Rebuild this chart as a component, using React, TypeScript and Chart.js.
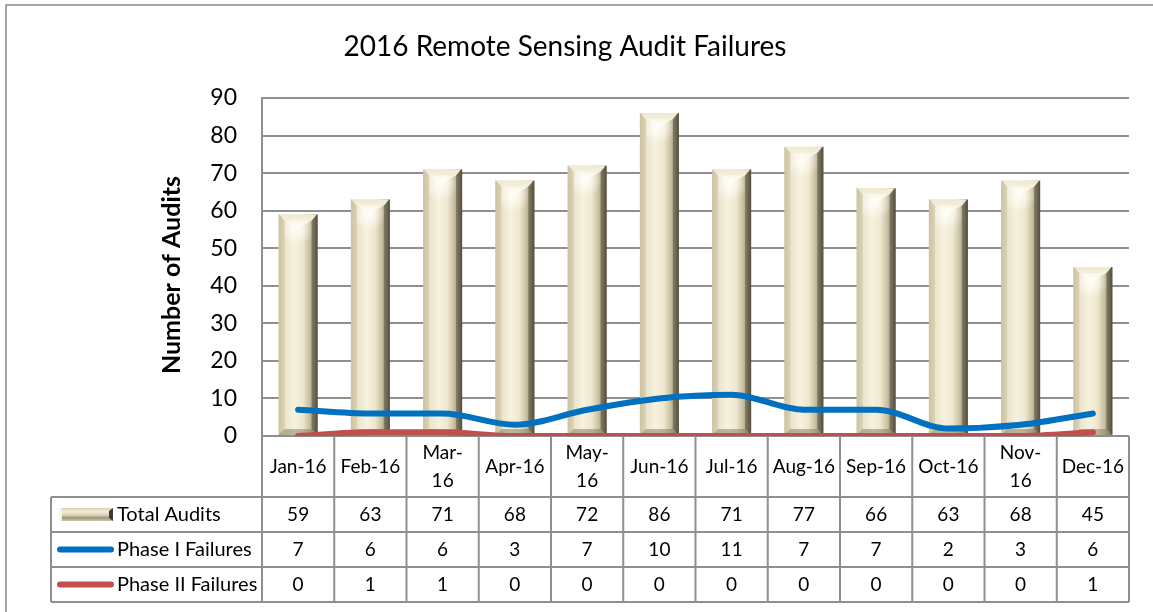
import React, { useEffect, useRef } from 'react';
import { Chart, registerables } from 'chart.js';

Chart.register(...registerables);

// ---- data ----
const months: (string | string[])[] = [
  'Jan-16', 'Feb-16', ['Mar-', '16'], 'Apr-16', ['May-', '16'], 'Jun-16',
  'Jul-16', 'Aug-16', 'Sep-16', 'Oct-16', ['Nov-', '16'], 'Dec-16',
];
const totalAudits = [59, 63, 71, 68, 72, 86, 71, 77, 66, 63, 68, 45];
const phase1Failures = [7, 6, 6, 3, 7, 10, 11, 7, 7, 2, 3, 6];
const phase2Failures = [0, 1, 1, 0, 0, 0, 0, 0, 0, 0, 0, 1];
const seriesNames = ['Total Audits', 'Phase I Failures', 'Phase II Failures'];
const yMin = 0;
const yMax = 90;
const yStep = 10;
const chartTitle = '2016 Remote Sensing Audit Failures';
const yAxisTitle = 'Number of Audits';

// ---- style ----
const FONT = 'Lato, "Open Sans", sans-serif';
const GRID = '#8f8f8f';
const BLUE = '#0070C0';
const RED = '#C0504D';

function drawBevelBar(ctx: CanvasRenderingContext2D, x0: number, x1: number, top: number, bottom: number) {
  const w = x1 - x0;
  const h = bottom - top;
  if (h <= 0) return;
  const d = Math.min(6, w / 4, h / 3);
  const xc = (x0 + x1) / 2;
  ctx.save();
  const g = ctx.createLinearGradient(x0, 0, x1, 0);
  g.addColorStop(0, '#cfc7a6');
  g.addColorStop(0.12, '#e8e1c6');
  g.addColorStop(0.4, '#f7f2df');
  g.addColorStop(0.62, '#eee7ce');
  g.addColorStop(0.8, '#c6be9f');
  g.addColorStop(0.92, '#8f886e');
  g.addColorStop(1, '#5d5746');
  ctx.fillStyle = g;
  ctx.fillRect(x0, top, w, h);
  // left bevel
  ctx.fillStyle = 'rgba(200,190,155,0.5)';
  ctx.beginPath();
  ctx.moveTo(x0, top); ctx.lineTo(x0 + d, top + d); ctx.lineTo(x0 + d, bottom - d); ctx.lineTo(x0, bottom);
  ctx.closePath(); ctx.fill();
  // right bevel
  ctx.fillStyle = 'rgba(70,65,50,0.45)';
  ctx.beginPath();
  ctx.moveTo(x1, top); ctx.lineTo(x1 - d, top + d); ctx.lineTo(x1 - d, bottom - d); ctx.lineTo(x1, bottom);
  ctx.closePath(); ctx.fill();
  // top face with V highlight
  const vh = Math.min(14, h / 2);
  const tg = ctx.createLinearGradient(0, top, 0, top + vh);
  tg.addColorStop(0, '#efe9d1');
  tg.addColorStop(1, '#fbf8ea');
  ctx.fillStyle = tg;
  ctx.beginPath();
  ctx.moveTo(x0 + 1, top); ctx.lineTo(x1 - 1, top); ctx.lineTo(x1 - d, top + d); ctx.lineTo(xc, top + vh); ctx.lineTo(x0 + d, top + d);
  ctx.closePath(); ctx.fill();
  const hg = ctx.createRadialGradient(xc - 2, top + vh, 0, xc - 2, top + vh, w * 0.45);
  hg.addColorStop(0, 'rgba(255,255,250,0.95)');
  hg.addColorStop(1, 'rgba(255,255,250,0)');
  ctx.fillStyle = hg;
  ctx.fillRect(x0 + d, top + d, w - 2 * d, Math.min(h - 2 * d, w));
  // bottom bevel
  ctx.fillStyle = 'rgba(140,130,100,0.55)';
  ctx.beginPath();
  ctx.moveTo(x0, bottom); ctx.lineTo(x0 + d, bottom - d); ctx.lineTo(x1 - d, bottom - d); ctx.lineTo(x1, bottom);
  ctx.closePath(); ctx.fill();
  ctx.restore();
}

function drawBarKey(ctx: CanvasRenderingContext2D, x0: number, y0: number, w: number, h: number) {
  ctx.save();
  const g = ctx.createLinearGradient(0, y0, 0, y0 + h);
  g.addColorStop(0, '#d8d0b2');
  g.addColorStop(0.3, '#f3eed9');
  g.addColorStop(0.55, '#d9d2b5');
  g.addColorStop(0.75, '#9d977c');
  g.addColorStop(1, '#cfc7a8');
  ctx.fillStyle = g;
  ctx.fillRect(x0, y0, w, h);
  ctx.fillStyle = '#f8f5e6';
  ctx.fillRect(x0, y0, 3, h);
  ctx.fillStyle = '#3e3b31';
  ctx.beginPath();
  ctx.moveTo(x0 + w, y0); ctx.lineTo(x0 + w - 4, y0 + 3); ctx.lineTo(x0 + w - 4, y0 + h - 3); ctx.lineTo(x0 + w, y0 + h);
  ctx.closePath(); ctx.fill();
  ctx.restore();
}

const decorPlugin = {
  id: 'decor',
  afterDatasetDraw(chart: any, args: any) {
    if (args.meta.type !== 'bar') return;
    const ctx = chart.ctx as CanvasRenderingContext2D;
    args.meta.data.forEach((el: any) => {
      const p = el.getProps(['x', 'y', 'base', 'width'], true);
      drawBevelBar(ctx, p.x - p.width / 2, p.x + p.width / 2, p.y, p.base);
    });
  },
  afterDraw(chart: any) {
    const ctx = chart.ctx as CanvasRenderingContext2D;
    const { left, right, top, bottom } = chart.chartArea;
    const xs = chart.scales.x;
    const n = months.length;
    const colW = (right - left) / n;
    const headerBottom = bottom + 61;
    const rowH = 35;
    const tableLeft = 51;
    const tableBottom = headerBottom + rowH * 3;

    ctx.save();
    // outer border
    ctx.strokeStyle = '#8a8a8a';
    ctx.lineWidth = 1.5;
    ctx.strokeRect(6, 5, chart.width + 20, chart.height + 20);

    // title
    ctx.fillStyle = '#000';
    ctx.textAlign = 'center';
    ctx.textBaseline = 'middle';
    ctx.font = `28px ${FONT}`;
    ctx.fillText(chartTitle, 565, 47);

    // y axis title
    ctx.save();
    ctx.translate(172, (top + bottom) / 2 + 8);
    ctx.rotate(-Math.PI / 2);
    ctx.font = `bold 25px ${FONT}`;
    ctx.fillText(yAxisTitle, 0, 0);
    ctx.restore();

    // table lines
    ctx.strokeStyle = GRID;
    ctx.lineWidth = 2;
    ctx.beginPath();
    for (let r = 0; r <= 3; r++) {
      const y = headerBottom + r * rowH;
      ctx.moveTo(tableLeft, y); ctx.lineTo(right, y);
    }
    ctx.moveTo(tableLeft, headerBottom); ctx.lineTo(tableLeft, tableBottom);
    for (let i = 0; i <= n; i++) {
      const x = left + i * colW;
      ctx.moveTo(x, bottom); ctx.lineTo(x, tableBottom);
    }
    ctx.stroke();

    // header labels
    ctx.fillStyle = '#000';
    ctx.font = `19px ${FONT}`;
    ctx.textAlign = 'center';
    const headerMid = (bottom + headerBottom) / 2;
    months.forEach((m, i) => {
      const x = xs.getPixelForValue(i);
      if (Array.isArray(m)) {
        ctx.fillText(m[0], x, headerMid - 14);
        ctx.fillText(m[1], x, headerMid + 14);
      } else {
        ctx.fillText(m, x, headerMid);
      }
    });

    // rows
    const rows = [totalAudits, phase1Failures, phase2Failures];
    rows.forEach((vals, r) => {
      const yc = headerBottom + r * rowH + rowH / 2;
      ctx.textAlign = 'center';
      ctx.font = `19px ${FONT}`;
      vals.forEach((v, i) => ctx.fillText(String(v), xs.getPixelForValue(i), yc));
      ctx.textAlign = 'left';
      ctx.font = `20px ${FONT}`;
      ctx.fillText(seriesNames[r], 117, yc);
      if (r === 0) {
        drawBarKey(ctx, 59, yc - 6.5, 54, 13);
      } else {
        ctx.strokeStyle = r === 1 ? BLUE : RED;
        ctx.lineWidth = 6;
        ctx.lineCap = 'round';
        ctx.beginPath();
        ctx.moveTo(60, yc); ctx.lineTo(111, yc);
        ctx.stroke();
      }
    });
    ctx.restore();
  },
};

export default function App() {
  const ref = useRef<HTMLCanvasElement>(null);
  useEffect(() => {
    if (!ref.current) return;
    const chart = new Chart(ref.current, {
      type: 'bar',
      data: {
        labels: months as any,
        datasets: [
          {
            type: 'bar',
            label: seriesNames[0],
            data: totalAudits,
            backgroundColor: 'rgba(0,0,0,0)',
            borderWidth: 0,
            barPercentage: 0.54,
            categoryPercentage: 1,
            order: 2,
          },
          {
            type: 'line',
            label: seriesNames[1],
            data: phase1Failures,
            borderColor: BLUE,
            borderWidth: 6,
            cubicInterpolationMode: 'monotone',
            pointRadius: 0,
            borderCapStyle: 'round',
            borderJoinStyle: 'round',
            order: 0,
          },
          {
            type: 'line',
            label: seriesNames[2],
            data: phase2Failures,
            borderColor: RED,
            borderWidth: 6,
            cubicInterpolationMode: 'monotone',
            pointRadius: 0,
            borderCapStyle: 'round',
            borderJoinStyle: 'round',
            order: 1,
          },
        ] as any,
      },
      options: {
        responsive: false,
        animation: false,
        devicePixelRatio: 1,
        layout: { padding: { left: 0, top: 98, right: 24, bottom: 176 } },
        plugins: {
          legend: { display: false },
          title: { display: false },
          tooltip: { enabled: false },
        },
        scales: {
          x: { display: false, offset: true },
          y: {
            min: yMin,
            max: yMax,
            ticks: {
              stepSize: yStep,
              padding: 25,
              color: '#000',
              font: { family: FONT, size: 23 },
            },
            grid: { color: GRID, lineWidth: 2, drawTicks: false },
            border: { display: true, color: GRID, width: 2 },
            afterFit: (scale: any) => { scale.width = 262; },
          },
        },
      },
      plugins: [decorPlugin],
    });
    return () => chart.destroy();
  }, []);
  return (
    <div style={{ position: 'fixed', left: 0, top: 0, width: 1153, height: 612, background: '#fff' }}>
      <canvas ref={ref} width={1153} height={612} style={{ display: 'block' }} />
    </div>
  );
}
